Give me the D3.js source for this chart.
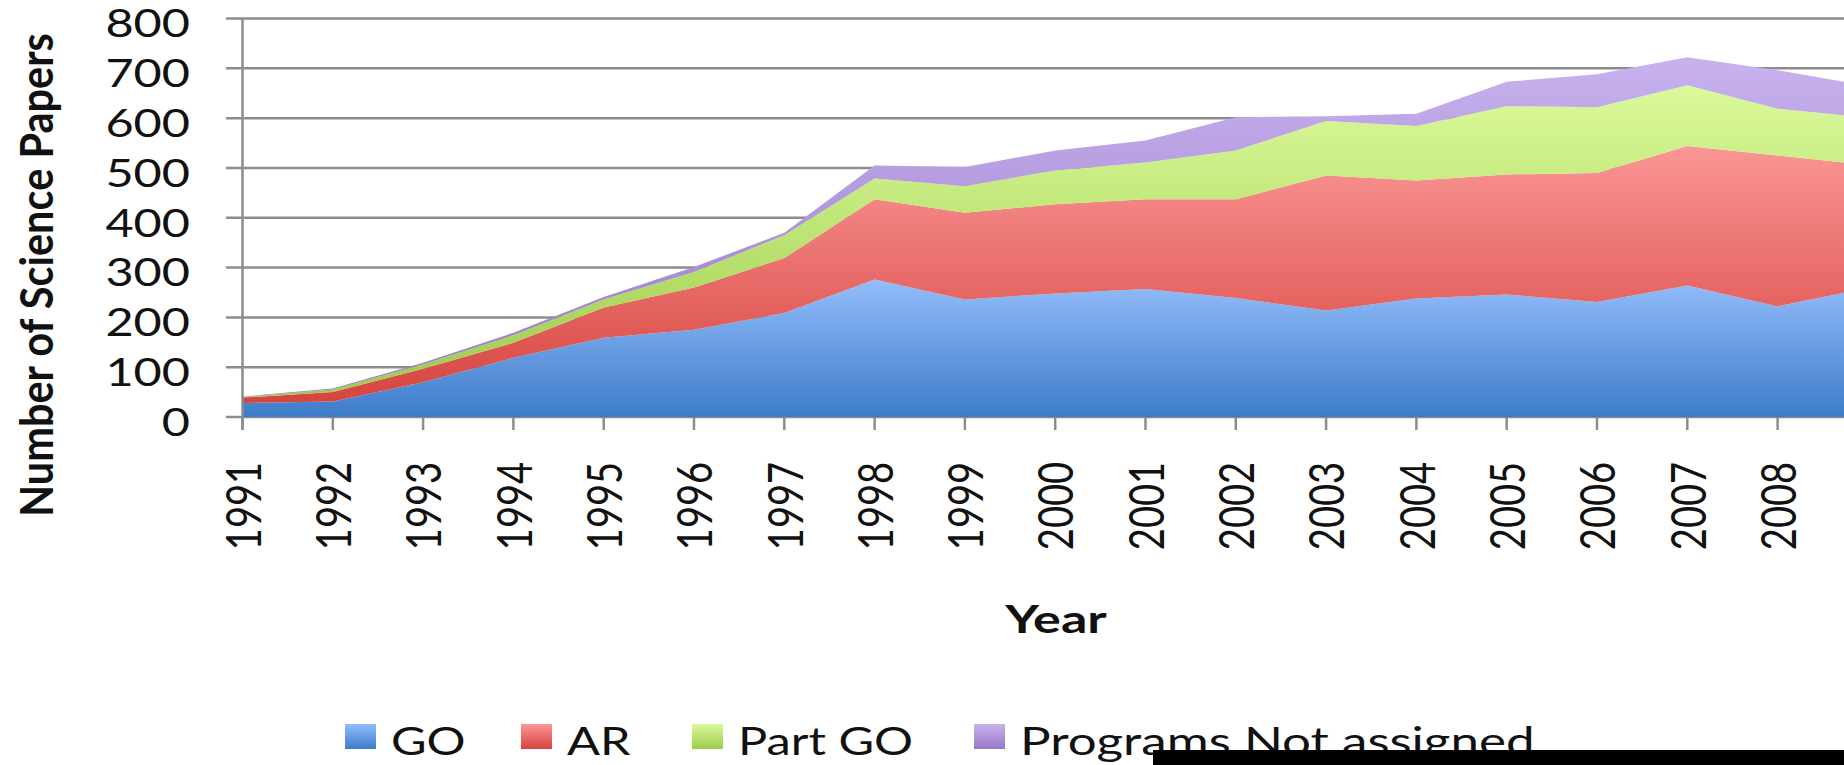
<!DOCTYPE html>
<html>
<head>
<meta charset="utf-8">
<script src="https://cdn.jsdelivr.net/npm/d3@7"></script>
<style>
  html, body { margin: 0; padding: 0; background: #fff; overflow: hidden; }
  svg { display: block; }
  text { font-family: Lato, "Open Sans", sans-serif; fill: #111; }
</style>
</head>
<body>
<svg id="chart"></svg>
<script>
const years = [1991, 1992, 1993, 1994, 1995, 1996, 1997, 1998, 1999, 2000,
               2001, 2002, 2003, 2004, 2005, 2006, 2007, 2008, 2009];
const seriesNames = ["GO", "AR", "Part GO", "Programs Not assigned"];
const goValues      = [28, 31, 70, 119, 159, 175, 209, 276, 236, 248, 257, 239, 214, 238, 246, 231, 264, 222, 259];
const arValues      = [11, 19, 27, 30, 61, 85, 110, 161, 174, 179, 180, 198, 271, 237, 241, 259, 280, 303, 247];
const partGoValues  = [1, 5, 9, 15, 16, 31, 46, 42, 53, 68, 74, 98, 109, 109, 137, 132, 122, 94, 95];
const notAssigned   = [1, 2, 3, 5, 5, 10, 5, 26, 39, 40, 44, 67, 10, 25, 49, 66, 56, 77, 64];
const yTicks = [0, 100, 200, 300, 400, 500, 600, 700, 800];

const W = 1844, H = 765;
const sx = 1.25; // source picture is stretched horizontally

const svg = d3.select("#chart")
    .attr("width", W)
    .attr("height", H);

// gradients: [top, bottom]
const colors = [
    ["#93bdfb", "#3d7cc9"],
    ["#fa9695", "#d6443f"],
    ["#dbfa9b", "#9ccb4a"],
    ["#c8b2ee", "#9878c6"]
];
const defs = svg.append("defs");
colors.forEach((c, i) => {
    const g = defs.append("linearGradient")
        .attr("id", "grad" + i)
        .attr("x1", 0).attr("y1", 0).attr("x2", 0).attr("y2", 1);
    g.append("stop").attr("offset", "0%").attr("stop-color", c[0]);
    g.append("stop").attr("offset", "100%").attr("stop-color", c[1]);
});

const rows = years.map((y, i) => ({
    year: y,
    "GO": goValues[i],
    "AR": arValues[i],
    "Part GO": partGoValues[i],
    "Programs Not assigned": notAssigned[i]
}));

const x = d3.scaleLinear().domain([1991, 2008]).range([242.5, 1777.6]);
const y = d3.scaleLinear().domain([0, 800]).range([417, 18.5]);

const stacked = d3.stack().keys(seriesNames)(rows);

// gridlines
svg.append("g")
    .selectAll("line")
    .data(yTicks)
    .join("line")
    .attr("x1", 226)
    .attr("x2", W)
    .attr("y1", d => y(d))
    .attr("y2", d => y(d))
    .attr("stroke", "#8c8c8c")
    .attr("stroke-width", 2.5);

// areas
const area = d3.area()
    .x(d => x(d.data.year))
    .y0(d => y(d[0]))
    .y1(d => y(d[1]));

svg.append("g")
    .selectAll("path")
    .data(stacked)
    .join("path")
    .attr("d", area)
    .attr("fill", (d, i) => `url(#grad${i})`);

// y axis line and x ticks
svg.append("line")
    .attr("x1", x(1991)).attr("x2", x(1991))
    .attr("y1", y(800)).attr("y2", 430)
    .attr("stroke", "#8c8c8c").attr("stroke-width", 2.5);

const visibleYears = years.filter(d => x(d) < W);

svg.append("g")
    .selectAll("line")
    .data(visibleYears)
    .join("line")
    .attr("x1", d => x(d)).attr("x2", d => x(d))
    .attr("y1", y(0)).attr("y2", 430)
    .attr("stroke", "#8c8c8c").attr("stroke-width", 2.5);

// y tick labels
svg.append("g")
    .selectAll("text")
    .data(yTicks)
    .join("text")
    .attr("transform", d => `translate(190,${y(d) + 4}) scale(1.28,1)`)
    .attr("text-anchor", "end")
    .attr("dominant-baseline", "central")
    .style("font-size", "38px")
    .text(d => d);

// x tick labels (rotated)
svg.append("g")
    .selectAll("text")
    .data(visibleYears)
    .join("text")
    .attr("transform", d => `translate(${x(d)},462) scale(${sx},1) rotate(-90)`)
    .attr("text-anchor", "end")
    .attr("dominant-baseline", "central")
    .style("font-size", "38px")
    .text(d => d);

// axis titles
svg.append("text")
    .attr("transform", `translate(53,275) scale(1.11,1) rotate(-90)`)
    .attr("text-anchor", "middle")
    .style("font-size", "41.5px")
    .style("font-weight", "bold")
    .text("Number of Science Papers");

svg.append("text")
    .attr("transform", `translate(1056,633) scale(1.37,1)`)
    .attr("text-anchor", "middle")
    .style("font-size", "38px")
    .style("font-weight", "bold")
    .text("Year");

// legend
const legendX = [345, 521, 692, 974];
const legend = svg.append("g")
    .selectAll("g")
    .data(seriesNames)
    .join("g")
    .attr("transform", (d, i) => `translate(${legendX[i]},724)`);

legend.append("rect")
    .attr("width", 31)
    .attr("height", 25)
    .attr("fill", (d, i) => `url(#grad${i})`);

legend.append("text")
    .attr("transform", (d, i) => `translate(46,31) scale(${i === 3 ? 1.31 : sx},1)`)
    .style("font-size", "39px")
    .text(d => d);

// black band at the bottom of the source picture
svg.append("rect")
    .attr("x", 1153).attr("y", 750)
    .attr("width", W - 1153).attr("height", H - 750)
    .attr("fill", "#000");
</script>
</body>
</html>
